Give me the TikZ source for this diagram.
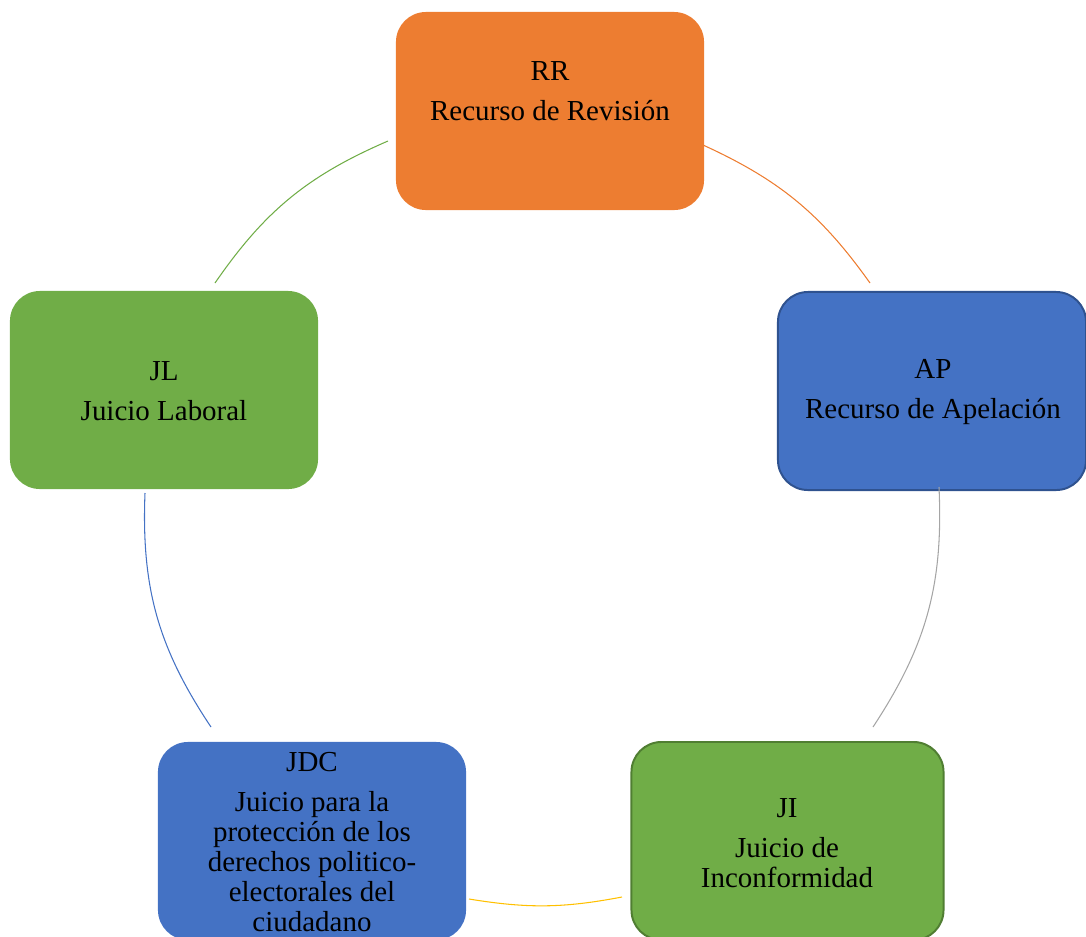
\documentclass[tikz,border=0pt]{standalone}
\usepackage{fontspec}
\setmainfont{Liberation Serif}
\definecolor{naranja}{HTML}{ED7D31}
\definecolor{azul}{HTML}{4472C4}
\definecolor{azuloscuro}{HTML}{2F528F}
\definecolor{verde}{HTML}{70AD47}
\definecolor{verdeoscuro}{HTML}{507E32}
\definecolor{gris}{HTML}{A5A5A5}
\definecolor{amarillo}{HTML}{FFC000}
\begin{document}
\begin{tikzpicture}[x=0.025cm, y=0.025cm]
% estilos del ciclo
\tikzset{
  caja/.style={rectangle, rounded corners=0.75cm, minimum width=7.7cm, minimum height=4.95cm, inner sep=0pt},
  texto/.style={align=center, inner sep=0pt, font=\fontsize{20.6}{21.3}\selectfont},
  enlace/.style={line width=0.75pt}
}
\useasboundingbox (0,0) rectangle (1086,-936);
\clip (0,0) rectangle (1086,-936);

\node[caja, fill=naranja] (rr) at (550,-111) {};
\node[caja, fill=azul, draw=azuloscuro, line width=1.4pt] (ap) at (932,-391) {};
\node[caja, fill=verde, draw=verdeoscuro, line width=1.4pt, minimum width=7.8cm] (ji) at (787.5,-841) {};
\node[caja, fill=azul] (jdc) at (312,-841) {};
\node[caja, fill=verde] (jl) at (164,-390) {};

\node[texto] (rrt) at (550,-91) {RR\\[7pt]Recurso de Revisión};
\node[texto] (apt) at (933,-392) {AP\\[7pt]Recurso de Apelación};
\node[texto] (jit) at (787,-843) {JI\\[7pt]Juicio de\\Inconformidad};
\node[texto] (jdct) at (312,-842) {JDC\\[7pt]Juicio para la\\protección de los\\derechos politico-\\electorales del\\ciudadano};
\node[texto] (jlt) at (164,-391) {JL\\[7pt]Juicio Laboral};

% extremos de los arcos
\coordinate (g1) at (215,-283);
\coordinate (g2) at (388,-141);
\coordinate (n1) at (703,-145);
\coordinate (n2) at (870,-283);
\coordinate (s1) at (939,-487);
\coordinate (s2) at (873,-727);
\coordinate (y1) at (622,-897);
\coordinate (y2) at (469,-899);
\coordinate (b1) at (211,-727);
\coordinate (b2) at (145,-493);

\draw[enlace, verde] (g1) to[bend left=16] (g2);
\draw[enlace, naranja] (n1) to[bend left=15] (n2);
\draw[enlace, gris] (s1) to[bend left=18] (s2);
\draw[enlace, amarillo] (y1) to[bend left=10] (y2);
\draw[enlace, azul] (b1) to[bend left=18] (b2);
\end{tikzpicture}
\end{document}
